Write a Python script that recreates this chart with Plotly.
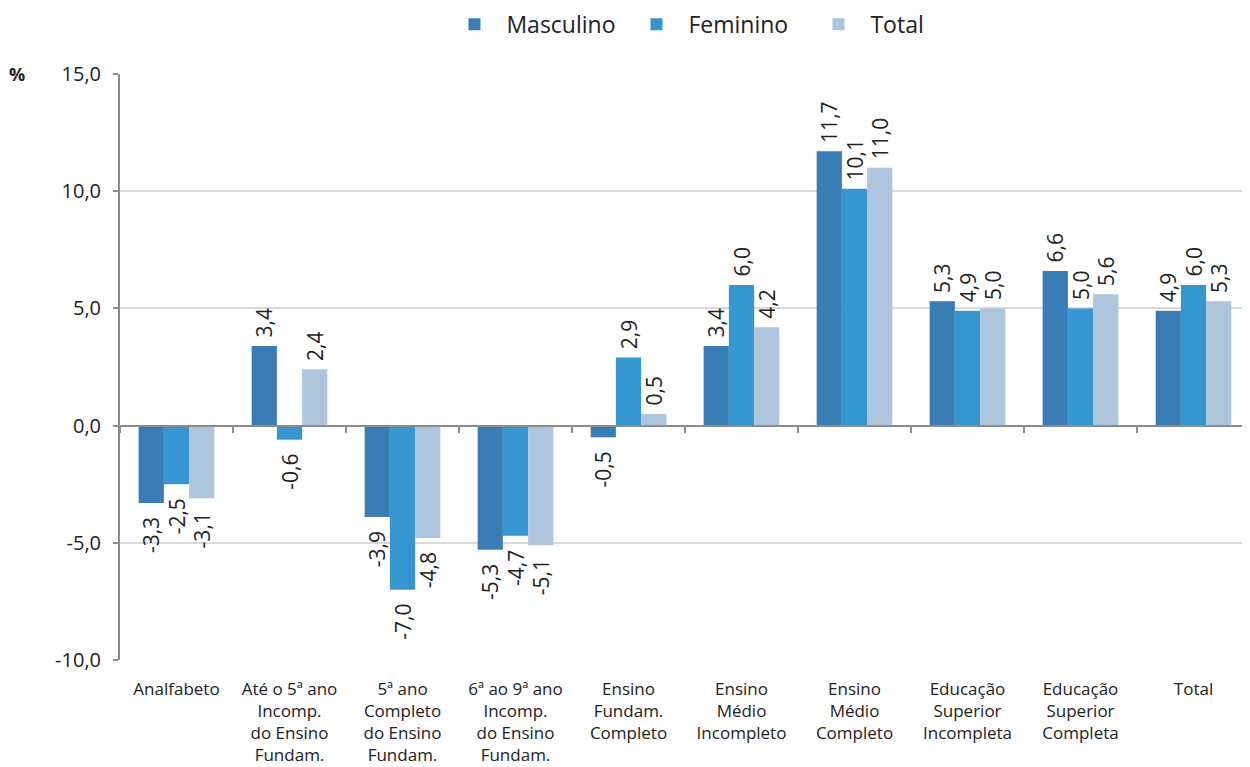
import plotly.graph_objects as go

categories = [
    "Analfabeto",
    "Até o 5ª ano<br>Incomp.<br>do Ensino<br>Fundam.",
    "5ª ano<br>Completo<br>do Ensino<br>Fundam.",
    "6ª ao 9ª ano<br>Incomp.<br>do Ensino<br>Fundam.",
    "Ensino<br>Fundam.<br>Completo",
    "Ensino<br>Médio<br>Incompleto",
    "Ensino<br>Médio<br>Completo",
    "Educação<br>Superior<br>Incompleta",
    "Educação<br>Superior<br>Completa",
    "Total",
]
masculino = [-3.3, 3.4, -3.9, -5.3, -0.5, 3.4, 11.7, 5.3, 6.6, 4.9]
feminino = [-2.5, -0.6, -7.0, -4.7, 2.9, 6.0, 10.1, 4.9, 5.0, 6.0]
total = [-3.1, 2.4, -4.8, -5.1, 0.5, 4.2, 11.0, 5.0, 5.6, 5.3]

y_tick_values = [-10, -5, 0, 5, 10, 15]
y_tick_labels = ["-10,0", "-5,0", "0,0", "5,0", "10,0", "15,0"]

series = [
    ("Masculino", masculino, "#3A7DB4"),
    ("Feminino", feminino, "#3696CF"),
    ("Total", total, "#AEC5DD"),
]

FONT = "Open Sans"
TXT = "#222222"
NB = "\u00a0"


def label_templates(vals):
    # pad the label on the side facing the bar end
    return [(NB + "%{y:.1f}") if v >= 0 else ("%{y:.1f}" + NB * 2) for v in vals]


fig = go.Figure()
for name, vals, color in series:
    fig.add_trace(go.Bar(
        x=categories, y=vals, name=NB * 2 + name, marker_color=color,
        marker_line_width=0,
        texttemplate=label_templates(vals), textposition="outside",
        textangle=-90, constraintext="none",
        textfont=dict(size=21, color=TXT, family=FONT),
        cliponaxis=False,
    ))

# invisible trace to carry the zero-crossing axis with boundary ticks
fig.add_trace(go.Scatter(
    x=categories, y=[0] * len(categories), xaxis="x2", mode="none",
    showlegend=False, hoverinfo="skip",
))

fig.update_layout(
    width=1250, height=767,
    margin=dict(l=112, r=8, t=66, b=115, autoexpand=False),
    paper_bgcolor="white", plot_bgcolor="white",
    separators=",.",
    barmode="group", bargap=0.33, bargroupgap=0,
    font=dict(family=FONT, color=TXT),
    legend=dict(
        orientation="h", x=0.296, xanchor="left", y=1.085, yanchor="middle",
        font=dict(size=23, family=FONT, color=TXT),
        entrywidth=137, entrywidthmode="pixels", traceorder="normal",
    ),
    xaxis=dict(
        type="category", showgrid=False, ticks="", showline=False,
        tickfont=dict(size=17, family=FONT, color=TXT),
        tickangle=0, zeroline=False, automargin=False,
        ticklabelstandoff=17,
    ),
    xaxis2=dict(
        type="category", overlaying="x", matches="x", anchor="free",
        position=0.4, showline=True, linecolor="#8c8c8c", linewidth=2,
        ticks="outside", ticklen=6, tickwidth=2, tickcolor="#8c8c8c",
        tickson="boundaries", showticklabels=False, showgrid=False,
    ),
    yaxis=dict(
        range=[-10, 15], tickvals=y_tick_values, ticktext=y_tick_labels,
        showgrid=True, gridcolor="#d9d9d9", gridwidth=1.5,
        zeroline=False, showline=True, linecolor="#8c8c8c", linewidth=2,
        ticks="outside", ticklen=5, tickwidth=2, tickcolor="#8c8c8c",
        tickfont=dict(size=20, family=FONT, color=TXT), automargin=False,
        ticklabelstandoff=8,
    ),
    annotations=[dict(
        text="<b>%</b>", xref="paper", yref="paper", x=-0.091, y=1,
        xanchor="center", yanchor="middle", showarrow=False,
        font=dict(size=18, family=FONT, color=TXT),
    )],
)

fig.write_html("out.html")
